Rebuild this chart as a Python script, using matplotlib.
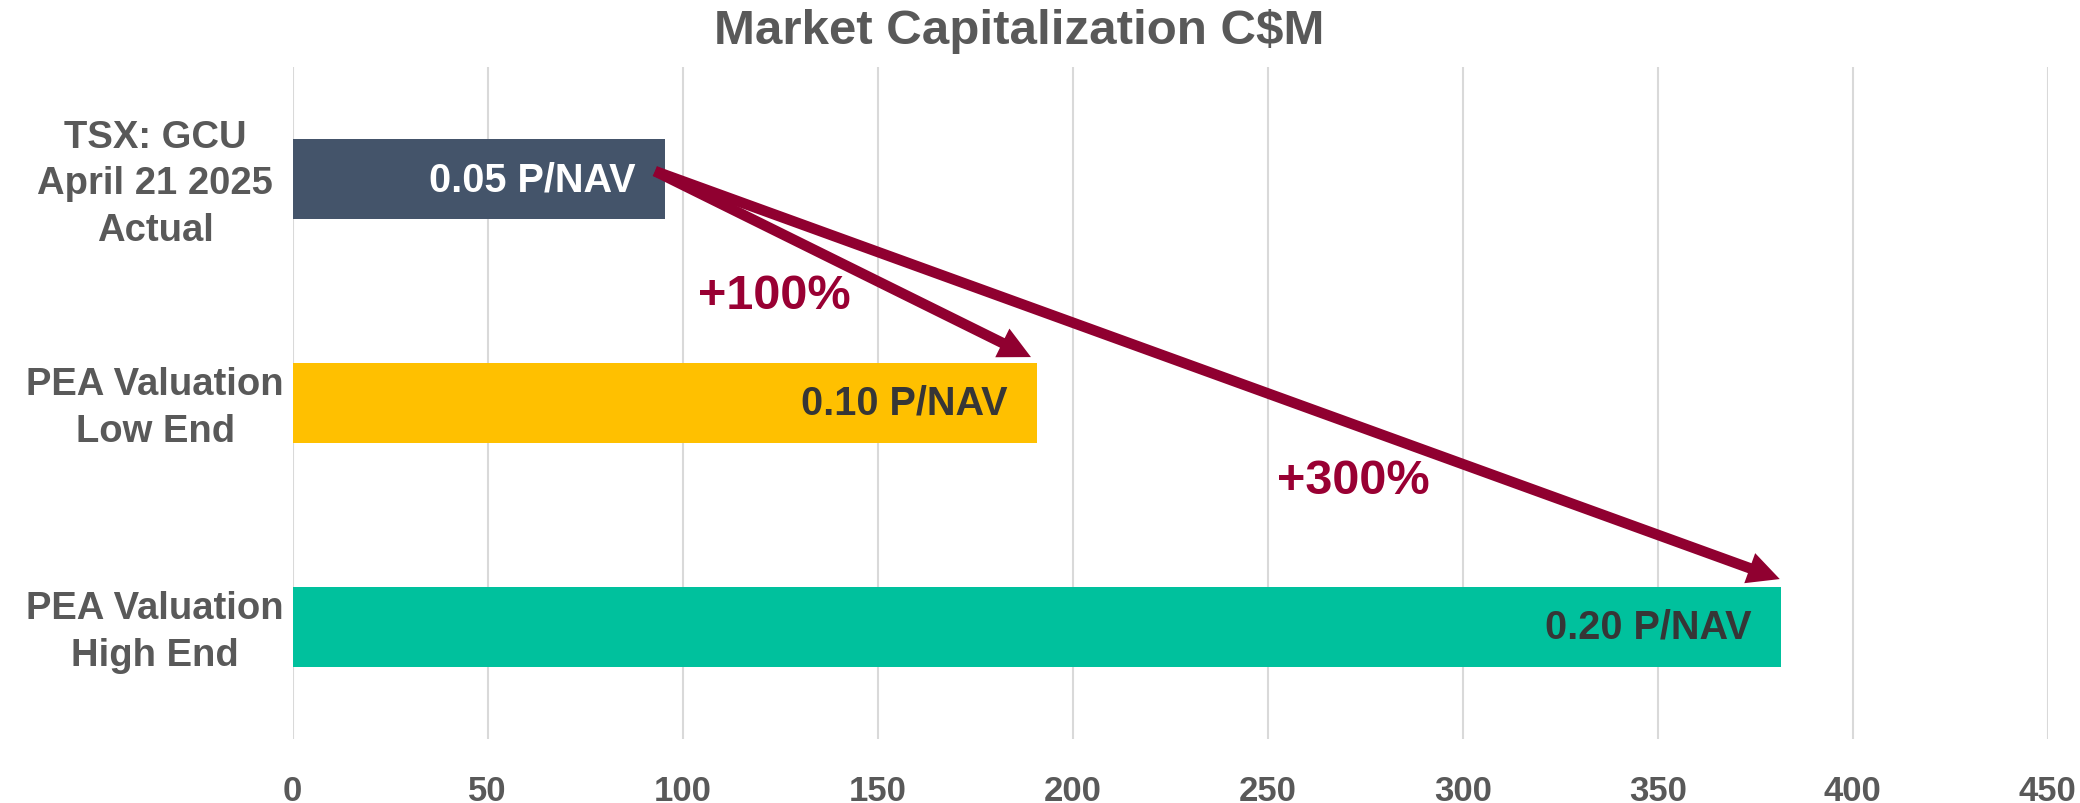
import matplotlib
matplotlib.use("Agg")
import matplotlib.pyplot as plt
import matplotlib.transforms as mtransforms

categories = ["TSX: GCU\nApril 21 2025\nActual", "PEA Valuation\nLow End", "PEA Valuation\nHigh End"]
values = [95.4, 190.8, 381.6]
bar_labels = ["0.05 P/NAV", "0.10 P/NAV", "0.20 P/NAV"]
bar_colors = ["#44546A", "#FFC000", "#00C19D"]
label_colors = ["#FFFFFF", "#363636", "#363636"]
xticks = [0, 50, 100, 150, 200, 250, 300, 350, 400, 450]
arrow_texts = ["+100%", "+300%"]

plt.rcParams['font.family'] = ['Liberation Sans', 'DejaVu Sans']

fig = plt.figure(figsize=(20.8, 8.04), dpi=100)
ax = fig.add_axes([292.7/2080, 1-740/804, 1755/2080, 672/804])

ypos = list(range(len(categories)))
ax.barh(ypos, values, height=0.36, color=bar_colors, zorder=2)
ax.set_ylim(len(categories)-0.5, -0.5)
ax.set_xlim(0, 450)
ax.set_xticks(xticks)
ax.set_xticklabels([str(t) for t in xticks], fontsize=25, fontweight='bold', color='#595959')
ax.set_yticks(ypos)
ax.set_yticklabels(categories, fontsize=27.5, fontweight='bold', color='#595959',
                   ha='center', multialignment='center', linespacing=1.38)
ax.tick_params(axis='y', length=0, pad=99)
ax.tick_params(axis='x', length=0, pad=25)
offset = mtransforms.ScaledTranslation(0, 5/100, fig.dpi_scale_trans)
for lab in ax.get_yticklabels():
    lab.set_transform(lab.get_transform() + offset)
ax.grid(axis='x', color='#D9D9D9', lw=1.5, zorder=0)
for s in ax.spines.values():
    s.set_visible(False)

for y, v, t, c in zip(ypos, values, bar_labels, label_colors):
    ax.text(v - 7.5, y, t, ha='right', va='center', fontsize=28.5, fontweight='bold', color=c, zorder=4)

arrow_color = '#900030'
start = (values[0] - 2.5, -0.035)
ends = [(values[1] - 1.5, 0.795), (values[2] - 0.3, 1.786)]
for e in ends:
    ax.annotate('', xy=e, xytext=start, xycoords='data', textcoords='data',
                arrowprops=dict(arrowstyle='simple,head_length=1.15,head_width=1.15,tail_width=0.38',
                                mutation_scale=20, color=arrow_color, lw=0,
                                shrinkA=0, shrinkB=0), zorder=5)

text_pos = [(123.5, 0.521), (271.9, 1.347)]
for (x, y), t in zip(text_pos, arrow_texts):
    ax.text(x, y, t, ha='center', va='center', fontsize=35, fontweight='bold', color='#990033', zorder=5)

fig.text(1019/2080, 1-32/804, "Market Capitalization C$M", ha='center', va='center',
         fontsize=35.5, fontweight='bold', color='#595959')

fig.savefig("out.png", dpi=100, facecolor='white')
